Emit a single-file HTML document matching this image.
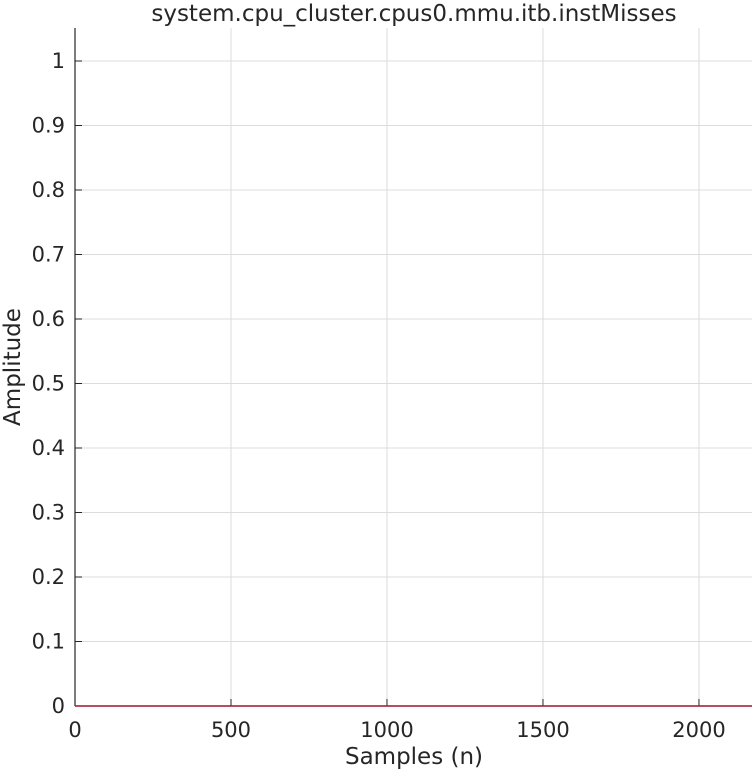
<!DOCTYPE html>
<html><head><meta charset="utf-8"><style>
body{margin:0;background:#fff;}
svg{display:block;font-family:"DejaVu Sans","Liberation Sans",sans-serif;}
</style></head><body>
<svg id="chart" width="755" height="771">
<rect width="755" height="771" fill="#fff"/>
<text x="414" y="21" font-size="23" text-anchor="middle" fill="#262626">system.cpu_cluster.cpus0.mmu.itb.instMisses</text>
<g id="grid"></g><g id="axes"></g><g id="series"></g>
<text x="414" y="764" font-size="23" text-anchor="middle" fill="#262626">Samples (n)</text>
<text transform="translate(20,367) rotate(-90)" font-size="23" text-anchor="middle" fill="#262626">Amplitude</text>
</svg>
<script>
const xTicks=[0,500,1000,1500,2000];
const yTicks=[0,0.1,0.2,0.3,0.4,0.5,0.6,0.7,0.8,0.9,1];
const yTickLabels=["0","0.1","0.2","0.3","0.4","0.5","0.6","0.7","0.8","0.9","1"];
const sampleX=[0,1000,2170];
const sampleY=[0,0,0];
const L=75,R=752,T=28,B=706,xMax=2170;
const sx=v=>L+v/xMax*(R-L);
const sy=v=>706-v*645;
const NS="http://www.w3.org/2000/svg";
function mk(t,a,p){const e=document.createElementNS(NS,t);for(const k in a)e.setAttribute(k,a[k]);p.appendChild(e);return e;}
const g=document.getElementById('grid'),ax=document.getElementById('axes'),s=document.getElementById('series');
xTicks.forEach(v=>{
 const l=mk('line',{x1:sx(v),x2:sx(v),y1:T,y2:B,stroke:'#dcdcdc','stroke-width':1},g);
 
 
 const tk=mk('line',{x1:sx(v),x2:sx(v),y1:B,y2:B-7,stroke:'#262626','stroke-width':1},ax);
 
 
 const t=mk('text',{x:sx(v),y:B+31,'font-size':21,'text-anchor':'middle',fill:'#262626'},ax);
 t.textContent=v;
 
 
});
yTicks.forEach((v,i)=>{
 const l=mk('line',{x1:L,x2:R,y1:sy(v),y2:sy(v),stroke:'#dcdcdc','stroke-width':1},g);
 
 
 const tk=mk('line',{x1:L,x2:L+7,y1:sy(v),y2:sy(v),stroke:'#262626','stroke-width':1},ax);
 
 
 const t=mk('text',{x:L-10,y:sy(v)+7,'font-size':21,'text-anchor':'end',fill:'#262626'},ax);
 t.textContent=yTickLabels[i];
 
 
});
const ya=mk('line',{x1:L,x2:L,y1:T,y2:B,stroke:'#262626','stroke-width':1.2},ax);


const pts=sampleX.map((x,i)=>sx(x)+','+sy(sampleY[i])).join(' ');
const pl=mk('polyline',{points:pts,fill:'none',stroke:'#a2142f','stroke-width':1.5},s);


</script>
</body></html>
